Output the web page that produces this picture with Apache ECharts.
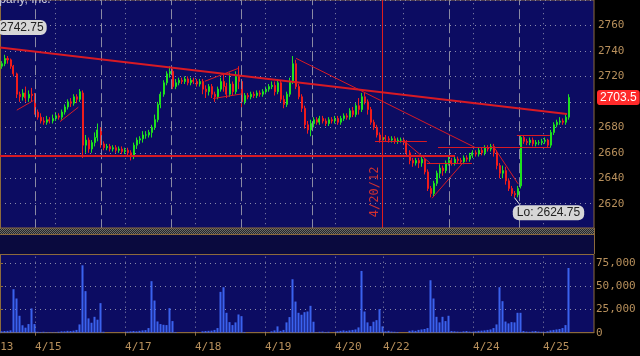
<!DOCTYPE html>
<html><head><meta charset="utf-8">
<script src="https://cdn.jsdelivr.net/npm/echarts@6/dist/echarts.min.js"></script>
<style>html,body{margin:0;padding:0;background:#000;}#c{width:640px;height:356px;}</style>
</head><body><div id="c"></div>
<script>
// ---- data (one bar per slot) ----
const closes = [2730,2734,2733,2728,2722,2706,2704,2707,2703,2706,
 2705,2692,2688,2685,2684,2686,2685,2687,2689,2688,
 2692,2696,2700,2699,2704,2702,2708,2666,2670,2663,
 2668,2672,2678,2667,2664,2665,2663,2664,2662,2663,
 2661,2662,2660,2657,2666,2670,2671,2674,2674,2676,
 2680,2686,2698,2706,2715,2722,2724,2712,2715,2717,
 2716,2718,2715,2717,2716,2714,2716,2710,2708,2712,
 2706,2704,2710,2716,2712,2706,2714,2708,2720,2716,
 2700,2705,2704,2706,2705,2707,2706,2708,2710,2712,
 2713,2708,2715,2702,2698,2706,2716,2730,2712,2704,
 2695,2682,2678,2683,2686,2684,2687,2685,2683,2686,
 2685,2687,2684,2687,2689,2688,2693,2690,2697,2694,
 2704,2700,2694,2684,2680,2674,2670,2672,2671,2670,
 2671,2669,2670,2670,2668,2660,2654,2652,2654,2652,
 2655,2645,2632,2628,2636,2644,2648,2646,2652,2654,
 2652,2655,2654,2653,2656,2655,2658,2660,2659,2662,
 2660,2664,2663,2665,2660,2650,2644,2646,2638,2632,
 2628,2627,2632,2672,2669,2668,2670,2667,2668,2668,
 2669,2670,2666,2676,2682,2684,2685,2684,2688,2703.5];
const opens = [2728,2730,2734,2733,2728,2722,2706,2704,2707,2703,
 2706,2705,2692,2688,2685,2684,2686,2685,2687,2689,
 2688,2692,2696,2700,2699,2704,2702,2707,2666,2670,
 2663,2668,2672,2678,2667,2664,2665,2663,2664,2662,
 2663,2661,2662,2660,2657,2666,2670,2671,2674,2674,
 2676,2680,2686,2698,2706,2715,2722,2724,2712,2715,
 2717,2716,2718,2715,2717,2716,2714,2716,2710,2708,
 2712,2706,2704,2710,2716,2712,2706,2714,2708,2720,
 2716,2700,2705,2704,2706,2705,2707,2706,2708,2710,
 2712,2713,2708,2715,2702,2698,2706,2716,2730,2712,
 2704,2695,2682,2678,2683,2686,2684,2687,2685,2683,
 2686,2685,2687,2684,2687,2689,2688,2693,2690,2697,
 2694,2704,2700,2694,2684,2680,2674,2670,2672,2671,
 2670,2671,2669,2670,2670,2668,2660,2654,2652,2654,
 2652,2655,2645,2632,2628,2636,2644,2648,2646,2652,
 2654,2652,2655,2654,2653,2656,2655,2658,2660,2659,
 2662,2660,2664,2663,2665,2660,2650,2644,2646,2638,
 2632,2628,2627,2634,2672,2669,2668,2670,2667,2668,
 2668,2669,2670,2666,2676,2682,2684,2685,2684,2688];
const highs = [2732,2737,2736,2734,2729,2723,2708,2710,2712,2709,
 2711,2707,2694,2691,2688,2689,2688,2690,2692,2691,
 2694,2698,2702,2703,2706,2706,2710,2709,2674,2672,
 2670,2676,2683,2680,2669,2667,2667,2666,2666,2665,
 2665,2664,2664,2662,2668,2672,2673,2677,2677,2678,
 2682,2690,2700,2708,2717,2724,2728,2726,2718,2719,
 2719,2720,2720,2719,2719,2718,2718,2718,2713,2714,
 2714,2708,2712,2719,2722,2715,2723,2716,2724,2728,
 2718,2707,2707,2708,2708,2709,2709,2710,2712,2714,
 2716,2716,2718,2717,2705,2708,2719,2736,2733,2714,
 2706,2697,2685,2686,2688,2688,2689,2689,2687,2688,
 2688,2689,2689,2689,2691,2691,2695,2696,2699,2703,
 2707,2707,2702,2696,2686,2682,2676,2674,2674,2673,
 2673,2673,2672,2672,2672,2670,2662,2656,2656,2656,
 2657,2656,2647,2634,2638,2646,2651,2650,2654,2657,
 2656,2657,2657,2656,2658,2658,2660,2662,2662,2664,
 2664,2666,2666,2667,2667,2662,2652,2650,2649,2640,
 2634,2630,2634,2674,2674,2671,2672,2672,2670,2670,
 2671,2672,2671,2678,2684,2686,2688,2687,2690,2706];
const lows = [2726,2728,2730,2726,2720,2703,2700,2701,2700,2700,
 2700,2690,2686,2683,2682,2682,2683,2683,2685,2686,
 2686,2690,2694,2696,2697,2699,2700,2656,2660,2660,
 2660,2665,2669,2664,2662,2662,2661,2661,2660,2660,
 2659,2659,2657,2654,2655,2663,2667,2668,2671,2672,
 2672,2678,2684,2695,2704,2713,2719,2710,2710,2713,
 2714,2714,2713,2713,2714,2712,2712,2706,2703,2705,
 2703,2700,2702,2708,2708,2703,2704,2705,2706,2710,
 2695,2698,2702,2702,2703,2703,2704,2704,2706,2708,
 2710,2705,2706,2700,2695,2696,2704,2714,2710,2702,
 2692,2679,2675,2673,2680,2682,2682,2683,2681,2681,
 2683,2683,2682,2682,2685,2686,2686,2688,2688,2690,
 2692,2698,2690,2682,2678,2672,2668,2668,2669,2668,
 2668,2667,2667,2668,2666,2658,2651,2649,2650,2648,
 2649,2643,2630,2625,2626,2634,2640,2642,2644,2650,
 2650,2650,2652,2651,2651,2653,2653,2656,2657,2657,
 2658,2658,2661,2661,2657,2647,2640,2640,2635,2630,
 2626,2624.75,2625,2632,2667,2666,2666,2665,2665,2666,
 2666,2667,2664,2664,2674,2680,2682,2682,2682,2686];
const volumes = [1500,1800,2000,2500,46800,36800,18200,8000,5400,9300,
 26100,9300,1000,800,1000,600,500,500,500,1000,
 1500,1500,2000,1800,2200,3000,8900,72500,44700,15400,
 10700,17100,14000,31800,1000,0,0,0,0,0,
 0,0,1200,1500,1800,1500,2000,2500,2800,5000,
 55400,34600,12100,9300,8500,8200,26400,12500,800,0,
 0,0,0,0,0,0,0,1500,1800,2000,
 2200,3000,5000,43900,48900,21400,11400,8200,11100,19600,
 17800,800,0,0,0,0,0,0,0,0,
 1500,2500,6800,2000,3000,11100,16800,57500,33500,21400,
 19300,22100,22800,28900,11800,500,1000,1200,800,1000,
 0,0,1500,2000,2500,2000,2500,3000,3500,5700,
 66400,22800,11100,7100,11800,13500,25300,6800,1500,2000,
 1200,1000,800,0,0,0,2000,2500,2000,3000,
 3500,4000,5000,56400,36800,17100,11100,17100,12500,18200,
 1800,1500,1200,1000,1500,1800,1200,1000,1500,2000,
 2200,2500,3000,3500,5000,8900,48900,33900,12000,10000,
 11400,11100,21400,21400,1800,1200,1000,1500,1800,1200,
 1000,800,1500,2500,3000,3500,4000,5000,8200,69600];

// time positions, in bar slots
const slotCount = 198;
const sessionBreaks = [11.67, 33.67, 57, 80.33, 104, 149.67, 173];
const dayLines = [18.33, 41.67, 65, 88.33, 111.67, 134.33, 157.67, 181];
const labelTicks = [11.67, 41.67, 65, 88.33, 111.67, 127.67, 157.67, 181];
const labelTexts = ['4/15','4/17','4/18','4/19','4/20','4/22','4/24','4/25'];
const firstLabelText = '4/13';
const markerDate = { pos: 127.5, text: '4/20/12' };
// trendlines: [slotStart, priceStart, slotEnd, priceEnd]
const trendLines = [
 [0, 2742.75, 189, 2690.5],
 [0, 2657.6, 151.7, 2657.6],
 [98.67, 2734.2, 158.33, 2664.2],
 [125, 2668.7, 142.3, 2668.7],
 [135, 2668.7, 143.3, 2652.1],
 [142.3, 2652.1, 157.3, 2652.1],
 [144, 2624.3, 154.3, 2652.1],
 [164.3, 2665.7, 172.7, 2635.6],
 [146, 2664, 183.3, 2664],
 [172.3, 2673.4, 183.3, 2673.4],
 [5.6, 2693.5, 11.1, 2701],
 [20, 2684.5, 26.1, 2695.8],
 [68.3, 2716.2, 79.3, 2726.2],
 [71, 2702.6, 80.7, 2706.3]
];
const thickLines = 2; // first two trendlines drawn thicker
const loPointer = [171.5, 2624.75, 173.3, 2619.2];
const headerText = 'Company, Inc.';

// ---- styles ----
const brown = '#8c6a3c';
const labelColor = '#b8905c';
const navy = '#0c0c62';
const mono = 'DejaVu Sans Mono';
const up = '#1ee21e', down = '#f01c1c', trendRed = '#d81a24';

const slots = Array.from({length: slotCount}, (_, i) => String(i));
const candleData = opens.map((o, i) => [o, closes[i], lows[i], highs[i]]);

const pc = document.createElement('canvas'); pc.width = 2; pc.height = 2;
const g = pc.getContext('2d');
g.fillStyle = '#262626'; g.fillRect(0, 0, 2, 2);
g.fillStyle = '#6a6a6a'; g.fillRect(0, 0, 1, 1); g.fillRect(1, 1, 1, 1);

const chart = echarts.init(document.getElementById('c'), null, {renderer: 'canvas'});
chart.setOption({
  animation: false,
  backgroundColor: '#000',
  grid: [
    {left: 0, right: 46, top: -9.9, height: 239.1, show: true, backgroundColor: navy, borderColor: brown, borderWidth: 1},
    {left: 0, right: 46, top: 254.3, height: 78.4, show: true, backgroundColor: navy, borderColor: brown, borderWidth: 1}
  ],
  xAxis: [
    {gridIndex: 0, type: 'category', data: slots, show: false, position: 'bottom'},
    {gridIndex: 0, type: 'value', min: 0, max: slotCount, show: false, position: 'bottom'},
    {gridIndex: 1, type: 'category', data: slots, show: false, position: 'bottom'},
    {gridIndex: 1, type: 'value', min: 0, max: slotCount, position: 'bottom',
     axisLine: {show: true, lineStyle: {color: brown}},
     axisTick: {show: true, customValues: labelTicks, length: 3, lineStyle: {color: brown}},
     axisLabel: {show: true, customValues: labelTicks, align: 'left', margin: 9, color: labelColor, fontFamily: mono, fontSize: 11,
       formatter: v => { let k = 0, d = 1e9; labelTicks.forEach((t, j) => { if (Math.abs(t - v) < d) { d = Math.abs(t - v); k = j; } }); return labelTexts[k]; }},
     splitLine: {show: false}}
  ],
  yAxis: [
    {gridIndex: 0, type: 'value', position: 'right', min: 2600, max: 2780, interval: 20,
     axisLine: {show: true, lineStyle: {color: brown}},
     axisTick: {show: true, inside: true, length: 4, lineStyle: {color: brown}},
     axisLabel: {color: labelColor, fontFamily: mono, fontSize: 11, margin: 4,
       formatter: v => (v > 2600 && v < 2780) ? String(v) : ''},
     splitLine: {show: true, lineStyle: {type: [1, 4], color: '#8a8aaa', width: 1}}},
    {gridIndex: 1, type: 'value', position: 'right', min: 0, max: 84300, interval: 25000,
     axisLine: {show: true, lineStyle: {color: brown}},
     axisTick: {show: true, length: 3, lineStyle: {color: brown}},
     axisLabel: {color: labelColor, fontFamily: mono, fontSize: 11, margin: 2,
       formatter: v => (v % 25000 === 0) ? v.toLocaleString('en-US') : ''},
     splitLine: {show: true, lineStyle: {type: [1, 4], color: '#8a8aaa', width: 1}}}
  ],
  graphic: [
    {type: 'text', x: -26, y: -6, z: 100, style: {text: headerText, fill: '#c8c8d8', font: '12px "Liberation Sans"'}},
    {type: 'rect', z: 100, shape: {x: 0, y: 228, width: 594, height: 7}, style: {fill: {image: pc, repeat: 'repeat'}}},
    {type: 'rect', z: 100, shape: {x: 0, y: 235, width: 594, height: 19}, style: {fill: '#0a0a3e'}},
    {type: 'line', z: 101, shape: {x1: 0, y1: 228, x2: 594, y2: 228}, style: {stroke: brown, lineWidth: 1}},
    {type: 'line', z: 101, shape: {x1: 0, y1: 234.5, x2: 594, y2: 234.5}, style: {stroke: brown, lineWidth: 1}},
    {type: 'line', z: 101, shape: {x1: 0, y1: 254.5, x2: 594, y2: 254.5}, style: {stroke: brown, lineWidth: 1}},
    {type: 'line', z: 101, shape: {x1: 594.5, y1: 228, x2: 594.5, y2: 254}, style: {stroke: brown, lineWidth: 1}},
    {type: 'text', x: -13, y: 342, z: 100, style: {text: firstLabelText, fill: labelColor, font: '11px "DejaVu Sans Mono"'}}
  ],
  series: [
    {type: 'line', xAxisIndex: 1, yAxisIndex: 0, data: [], z: 1, silent: true,
     markLine: {silent: true, symbol: ['none', 'none'], animation: false, label: {show: false},
       data: [
         ...sessionBreaks.map(v => ({xAxis: v, lineStyle: {type: [10, 4], color: '#8a8aa4', width: 1}})),
         ...dayLines.map(v => ({xAxis: v, lineStyle: {type: [1, 4], color: '#8a8aaa', width: 1}}))
       ]}},
    {type: 'candlestick', xAxisIndex: 0, yAxisIndex: 0, data: candleData, barWidth: 1.5, z: 3,
     itemStyle: {color: up, color0: down, borderColor: up, borderColor0: down, borderWidth: 1},
     markLine: {silent: true, symbol: ['none', 'none'], animation: false,
       data: [{yAxis: closes[closes.length - 1]}],
       lineStyle: {color: 'rgba(0,0,0,0)', width: 0},
       label: {show: true, position: 'end', distance: 3, formatter: p => String(p.value),
         backgroundColor: '#ff2a2a', color: '#ffffff', padding: [2, 3, 1, 3], borderRadius: 3,
         fontFamily: 'Liberation Sans', fontSize: 12}},
     markPoint: {silent: true, animation: false, symbol: 'rect', symbolSize: 1, itemStyle: {color: 'rgba(0,0,0,0)'},
       data: [{type: 'min', valueDim: 'lowest'}],
       label: {show: true, position: 'inside', offset: [34, 15], formatter: p => 'Lo: ' + p.value,
         backgroundColor: '#d6d6d6', color: '#222', borderRadius: 6, padding: [2, 4, 1, 4],
         fontFamily: 'Liberation Sans', fontSize: 12}}},
    {type: 'line', xAxisIndex: 1, yAxisIndex: 0, data: [], z: 4, silent: true,
     markLine: {silent: true, symbol: ['none', 'none'], animation: false, label: {show: false},
       data: [
         ...trendLines.map((t, k) => [
           {coord: [t[0], t[1]], lineStyle: {color: trendRed, width: k < thickLines ? 2 : 1, type: 'solid'}},
           {coord: [t[2], t[3]]}]),
         [{coord: [loPointer[0], loPointer[1]], lineStyle: {color: '#e8e8e8', width: 1, type: 'solid'}},
          {coord: [loPointer[2], loPointer[3]]}],
         {xAxis: markerDate.pos, lineStyle: {color: '#e01c1c', width: 1, type: 'solid'},
          label: {show: true, position: 'insideStartTop', formatter: markerDate.text, distance: [12, 2],
            color: '#d03030', fontFamily: mono, fontSize: 12}}
       ]},
     markPoint: {silent: true, animation: false, symbol: 'rect', symbolSize: 1, itemStyle: {color: 'rgba(0,0,0,0)'},
       data: [{coord: [trendLines[0][0], trendLines[0][1]], value: trendLines[0][1]}],
       label: {show: true, position: 'inside', offset: [22, -20], formatter: p => Number(p.value).toFixed(2),
         backgroundColor: '#d6d6d6', color: '#222', borderRadius: 6, padding: [2, 3, 1, 3],
         fontFamily: 'Liberation Sans', fontSize: 12}}},
    {type: 'line', xAxisIndex: 3, yAxisIndex: 1, data: [], z: 1, silent: true,
     markLine: {silent: true, symbol: ['none', 'none'], animation: false, label: {show: false},
       data: labelTicks.map(v => ({xAxis: v, lineStyle: {type: [1, 4], color: '#8a8aaa', width: 1}}))}},
    {type: 'bar', xAxisIndex: 2, yAxisIndex: 1, data: volumes, barWidth: 2, z: 2,
     itemStyle: {color: '#3b62ee'}}
  ]
});
</script></body></html>
